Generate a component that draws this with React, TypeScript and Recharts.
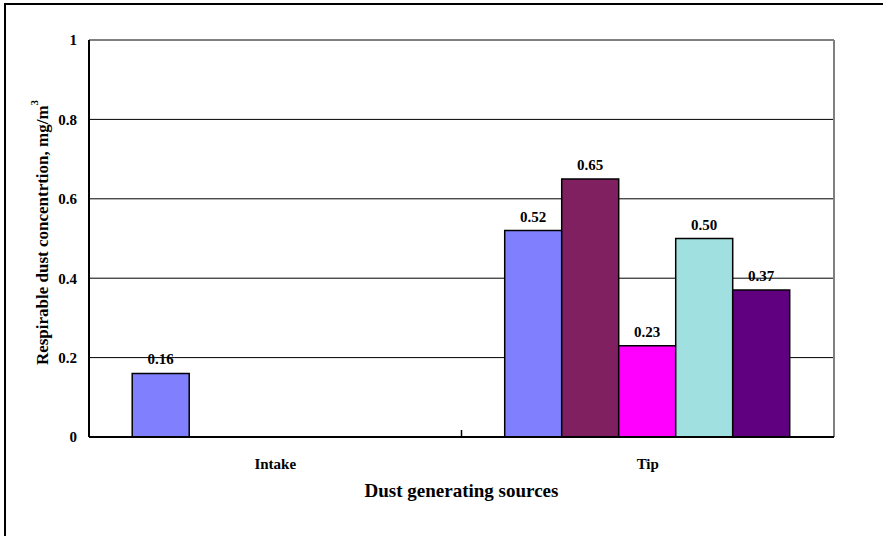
import { BarChart, Bar, XAxis, YAxis, CartesianGrid, LabelList, Label } from 'recharts'

const categories = ['Intake', 'Tip']
const series1 = [0.16, 0.52]
const series2 = [null, 0.65]
const series3 = [null, 0.23]
const series4 = [null, 0.5]
const series5 = [null, 0.37]
const yTicks = [0, 0.2, 0.4, 0.6, 0.8, 1]

const colors = ['#8080FF', '#802060', '#FF00FF', '#A0E0E0', '#600080']
const seriesKeys = ['s1', 's2', 's3', 's4', 's5']

const chartData = categories.map((name, i) => ({
  name,
  s1: series1[i],
  s2: series2[i],
  s3: series3[i],
  s4: series4[i],
  s5: series5[i]
}))

const FONT = '"Liberation Serif", "Times New Roman", serif'

// category tick plus the little divider mark between the two groups
const CategoryTick = (props: any) => {
  const { x, y, payload, index } = props
  const half = payload && payload.offset ? payload.offset : 0
  return (
    <g>
      <text x={x} y={y} dy="0.71em" textAnchor="middle" fontFamily={FONT} fontWeight="bold" fontSize={15} fill="#000">
        {payload.value}
      </text>
      {index === 0 && half > 0 && (
        <line x1={x + half} x2={x + half} y1={y - 21} y2={y - 28} stroke="#000" strokeWidth={1.5} />
      )}
    </g>
  )
}

const YTitle = (props: any) => {
  const { viewBox } = props
  const cx = 42
  const cy = viewBox.y + viewBox.height / 2 - 6
  return (
    <text x={cx} y={cy} transform={`rotate(-90, ${cx}, ${cy})`} textAnchor="middle" dominantBaseline="central"
      fontFamily={FONT} fontWeight="bold" fontSize={17} fill="#000">
      Respirable dust concentrtion, mg/m
      <tspan dy={-8} fontSize={11}>3</tspan>
    </text>
  )
}

const fmt = (v: any) => (v == null ? '' : Number(v).toFixed(2))

const App = () => {
  return (
    <div style={{ position: 'absolute', left: 0, top: 0, width: 883, height: 536, overflow: 'hidden', background: '#fff' }}>
      <div style={{ position: 'absolute', left: 4, top: 3, width: 1000, height: 1000, borderLeft: '2px solid #000', borderTop: '2px solid #000' }} />
      <div style={{ position: 'absolute', left: 0, top: 0 }}>
        <BarChart width={883} height={536} data={chartData} margin={{ top: 40, right: 49, bottom: 0, left: 0 }}
          barCategoryGap="11.6%" barGap={0}>
          <CartesianGrid vertical={false} stroke="#000" strokeWidth={1} />
          <CartesianGrid horizontal={false} stroke="#808080" strokeWidth={2}
            verticalCoordinatesGenerator={({ offset }: any) => [offset.left + offset.width]} />
          <XAxis dataKey="name" height={99} tickLine={false} axisLine={{ stroke: '#000', strokeWidth: 2 }}
            tickSize={6} tickMargin={15} tick={<CategoryTick />} interval={0}>
            <Label value="Dust generating sources" position="insideTop" offset={47}
              style={{ fontFamily: FONT, fontWeight: 'bold', fontSize: 19, fill: '#000' }} />
          </XAxis>
          <YAxis width={89} domain={[0, 1]} ticks={yTicks} tickLine={false} axisLine={{ stroke: '#000', strokeWidth: 2 }}
            tickSize={6} tickMargin={6} tickFormatter={(v: number) => String(v)}
            tick={{ fontFamily: FONT, fontWeight: 'bold', fontSize: 15, fill: '#000' }}>
            <Label content={<YTitle />} />
          </YAxis>
          {seriesKeys.map((k, i) => (
            <Bar key={k} dataKey={k} fill={colors[i]} stroke="#000" strokeWidth={1.5} isAnimationActive={false}>
              <LabelList dataKey={k} position="top" offset={9} formatter={fmt}
                style={{ fontFamily: FONT, fontWeight: 'bold', fontSize: 15, fill: '#000' }} />
            </Bar>
          ))}
        </BarChart>
      </div>
    </div>
  )
}

export default App
